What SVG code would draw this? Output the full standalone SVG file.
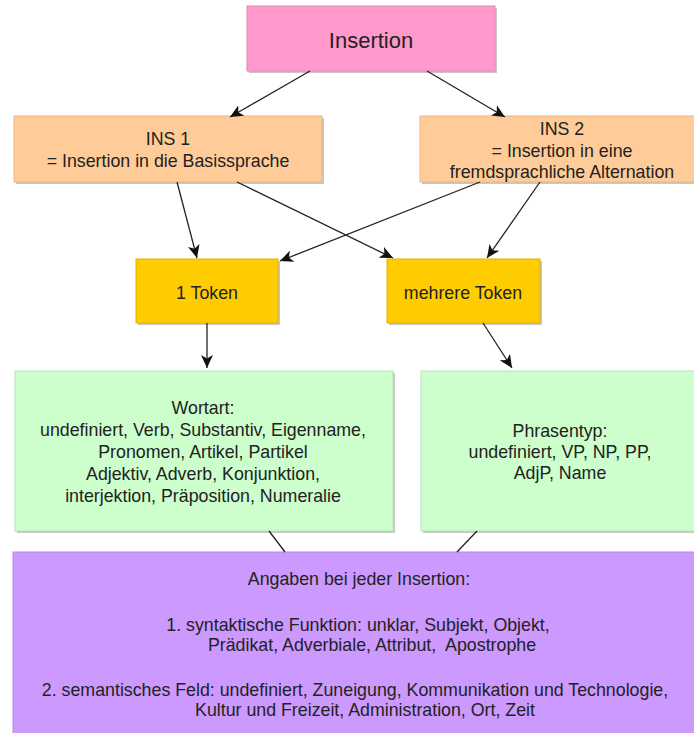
<svg xmlns="http://www.w3.org/2000/svg" width="694" height="733" viewBox="0 0 694 733">
<style>
  text { font-family: "Liberation Sans", Arial, sans-serif; font-size: 17.8px; fill: #222; text-anchor: middle; }
  .big { font-size: 22px; }
  .shadow { fill: #000; opacity: 0.22; }
  .pink { fill: #ff99cc; stroke: #e685b6; stroke-width: 1; }
  .orange { fill: #ffcc99; stroke: #e8b888; stroke-width: 1; }
  .yellow { fill: #ffcc00; stroke: #e0b400; stroke-width: 1; }
  .green { fill: #ccffcc; stroke: #b4e4b4; stroke-width: 1; }
  .purple { fill: #cc99ff; stroke: #b887e6; stroke-width: 1; }
  .conn line { stroke: #222; stroke-width: 1.3; fill: none; }
  .conn .arr { marker-end: url(#ah); }
</style>
<defs>
  <marker id="ah" markerUnits="userSpaceOnUse" markerWidth="14" markerHeight="12" refX="13" refY="6" orient="auto">
    <path d="M0,0 L13,6 L0,12 L3.5,6 Z" fill="#111"/>
  </marker>
</defs>
<rect width="694" height="733" fill="#fff"/>

<g id="insertion">
  <rect class="shadow" x="249" y="8" width="248" height="65"/>
  <rect class="pink" x="247" y="6" width="248" height="65"/>
  <text class="big" x="371" y="48">Insertion</text>
</g>

<g id="ins1">
  <rect class="shadow" x="16" y="118" width="308" height="66"/>
  <rect class="orange" x="14" y="116" width="308" height="66"/>
  <text x="168" y="145">INS 1</text>
  <text x="168" y="167">= Insertion in die Basissprache</text>
</g>

<g id="ins2">
  <rect class="shadow" x="422" y="118" width="284" height="66"/>
  <rect class="orange" x="420" y="116" width="284" height="66"/>
  <text x="562" y="135">INS 2</text>
  <text x="562" y="157">= Insertion in eine</text>
  <text x="562" y="178">fremdsprachliche Alternation</text>
</g>

<g id="token1">
  <rect class="shadow" x="138" y="261" width="142" height="64"/>
  <rect class="yellow" x="136" y="259" width="142" height="64"/>
  <text x="207" y="299">1 Token</text>
</g>

<g id="mehrere">
  <rect class="shadow" x="389" y="261" width="153" height="64"/>
  <rect class="yellow" x="387" y="259" width="153" height="64"/>
  <text x="463" y="299">mehrere Token</text>
</g>

<g id="wortart">
  <rect class="shadow" x="17" y="373" width="378" height="160"/>
  <rect class="green" x="15" y="371" width="378" height="160"/>
  <text x="203" y="414">Wortart:</text>
  <text x="203" y="436">undefiniert, Verb, Substantiv, Eigenname,</text>
  <text x="203" y="458">Pronomen, Artikel, Partikel</text>
  <text x="203" y="480">Adjektiv, Adverb, Konjunktion,</text>
  <text x="203" y="502">interjektion, Präposition, Numeralie</text>
</g>

<g id="phrasentyp">
  <rect class="shadow" x="423" y="373" width="280" height="160"/>
  <rect class="green" x="421" y="371" width="280" height="160"/>
  <text x="560" y="437">Phrasentyp:</text>
  <text x="560" y="458">undefiniert, VP, NP, PP,</text>
  <text x="560" y="479">AdjP, Name</text>
</g>

<g id="angaben">
  <rect class="shadow" x="15" y="554" width="690" height="190"/>
  <rect class="purple" x="13" y="552" width="690" height="190"/>
  <text x="359" y="585">Angaben bei jeder Insertion:</text>
  <text x="358" y="631">1. syntaktische Funktion: unklar, Subjekt, Objekt,</text>
  <text x="372" y="651">Prädikat, Adverbiale, Attribut,&#160; Apostrophe</text>
  <text x="355" y="696">2. semantisches Feld: undefiniert, Zuneigung, Kommunikation und Technologie,</text>
  <text x="365" y="716">Kultur und Freizeit, Administration, Ort, Zeit</text>
</g>

<g id="connectors" class="conn">
  <line class="arr" x1="310" y1="71" x2="230" y2="117"/>
  <line class="arr" x1="427" y1="71" x2="505" y2="117"/>
  <line class="arr" x1="177" y1="182" x2="197" y2="258"/>
  <line class="arr" x1="237" y1="182" x2="393" y2="258"/>
  <line class="arr" x1="480" y1="182" x2="280" y2="261"/>
  <line class="arr" x1="540" y1="182" x2="487" y2="258"/>
  <line class="arr" x1="207" y1="323" x2="207" y2="368"/>
  <line class="arr" x1="483" y1="323" x2="512" y2="368"/>
  <line x1="269" y1="531" x2="285" y2="552"/>
  <line x1="477" y1="531" x2="457" y2="552"/>
</g>
</svg>
